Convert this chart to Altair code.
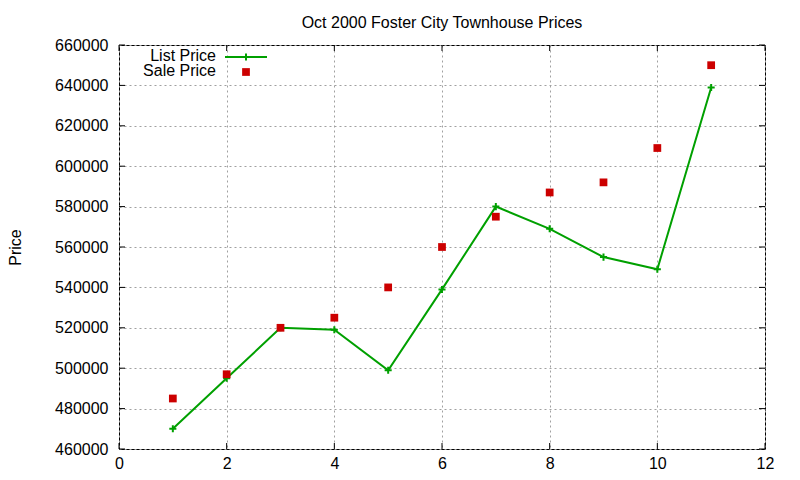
import altair as alt
import pandas as pd

# Werte
lots = [1, 2, 3, 4, 5, 6, 7, 8, 9, 10, 11]
list_price = [470000, 495000, 520000, 519000, 499000, 539000,
              580000, 569000, 555000, 549000, 639000]
sale_price = [485000, 497000, 520000, 525000, 540000, 560000,
              575000, 587000, 592000, 609000, 650000]

x_ticks = [0, 2, 4, 6, 8, 10, 12]
y_ticks = [460000, 480000, 500000, 520000, 540000, 560000,
           580000, 600000, 620000, 640000, 660000]

GREEN = "#00a000"
RED = "#cc0000"
FONT = "Liberation Sans"
W, H = 646, 404
TIC = 6
PLUS = "M-1,0L1,0M0,-1L0,1"

df = pd.DataFrame({"x": lots, "list": list_price, "sale": sale_price})
xt = pd.DataFrame({"t": x_ticks})
yt = pd.DataFrame({"t": y_ticks})

xscale = alt.Scale(domain=[0, 12], nice=False, zero=False)
yscale = alt.Scale(domain=[460000, 660000], nice=False, zero=False)

x_enc = alt.X("x:Q", scale=xscale, title=None,
              axis=alt.Axis(values=x_ticks, format="d", labelPadding=6,
                            labelFlush=False))
y_enc = alt.Y("list:Q", scale=yscale,
              axis=alt.Axis(values=y_ticks, format="d", labelPadding=11,
                            labelFlush=False,
                            title="Price", titleX=-99, titleY=H / 2,
                            titleAngle=-90, titleBaseline="alphabetic",
                            titleAlign="center"))

# Liste
line = alt.Chart(df).mark_line(color=GREEN, strokeWidth=2).encode(x=x_enc, y=y_enc)
crosses = alt.Chart(df).mark_point(shape=PLUS, size=50, color=GREEN, strokeWidth=2,
                                   filled=False, opacity=1).encode(x="x:Q", y="list:Q")
# Verkauf
squares = alt.Chart(df).mark_square(size=60, color=RED, opacity=1).encode(
    x="x:Q", y=alt.Y("sale:Q"))

# Tics nach innen, wie bei gnuplot
tic_l = alt.Chart(yt).mark_rule(color="black").encode(
    y="t:Q", x=alt.value(0), x2=alt.value(TIC))
tic_r = alt.Chart(yt).mark_rule(color="black").encode(
    y="t:Q", x=alt.value(W - TIC), x2=alt.value(W))
tic_b = alt.Chart(xt).mark_rule(color="black").encode(
    x="t:Q", y=alt.value(H - TIC), y2=alt.value(H))
tic_t = alt.Chart(xt).mark_rule(color="black").encode(
    x="t:Q", y=alt.value(0), y2=alt.value(TIC))

# Legende
one = pd.DataFrame({"k": [0]})
leg_txt1 = alt.Chart(one).mark_text(align="right", baseline="alphabetic", fontSize=16,
                                    font=FONT, color="black").encode(
    x=alt.value(97), y=alt.value(16), text=alt.value("List Price"))
leg_txt2 = alt.Chart(one).mark_text(align="right", baseline="alphabetic", fontSize=16,
                                    font=FONT, color="black").encode(
    x=alt.value(97), y=alt.value(31), text=alt.value("Sale Price"))
leg_line = alt.Chart(one).mark_rule(color=GREEN, strokeWidth=2).encode(
    x=alt.value(106), x2=alt.value(148), y=alt.value(12))
leg_plus = alt.Chart(one).mark_point(shape=PLUS, size=50, color=GREEN, strokeWidth=2,
                                     filled=False, opacity=1).encode(
    x=alt.value(127), y=alt.value(12))
leg_sq = alt.Chart(one).mark_square(size=60, color=RED, opacity=1).encode(
    x=alt.value(127), y=alt.value(27))

chart = alt.layer(
    line, crosses, squares, tic_l, tic_r, tic_b, tic_t,
    leg_txt1, leg_txt2, leg_line, leg_plus, leg_sq
).properties(
    width=W, height=H,
    title=alt.Title("Oct 2000 Foster City Townhouse Prices", fontSize=16, font=FONT,
                    fontWeight="normal", color="black", offset=6),
    autosize=alt.AutoSizeParams(type="none"),
    padding={"left": 111, "top": 37, "right": 19, "bottom": 25},
).configure_view(
    stroke="black", strokeWidth=1
).configure_axis(
    grid=True, gridColor="#a0a0a0", gridDash=[2, 3], gridWidth=1,
    ticks=False, domain=False,
    labelFont=FONT, labelFontSize=16, labelColor="black",
    titleFont=FONT, titleFontSize=16, titleColor="black", titleFontWeight="normal"
)

chart.save("out.html", embed_options={"renderer": "svg", "actions": False})
